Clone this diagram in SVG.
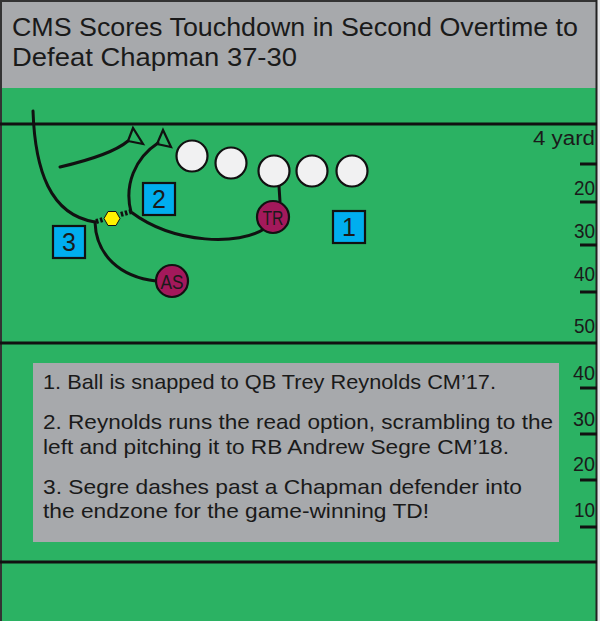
<svg xmlns="http://www.w3.org/2000/svg" width="600" height="621" viewBox="0 0 600 621">
<style>
.t{font-family:"Liberation Sans",Arial,sans-serif;fill:#1a1a1a}
.ln{stroke:#111;stroke-width:3;fill:none}
.rt{stroke:#111;stroke-width:3;fill:none;stroke-linecap:round}
.ah{stroke:#111;stroke-width:2.2;fill:none;stroke-linejoin:miter}
.ol{fill:#f1f1f2;stroke:#111;stroke-width:2.2}
.pl{fill:#a3195b;stroke:#111;stroke-width:2.2}
.bx{fill:#00aeef;stroke:#111;stroke-width:2.2}
.tk{stroke:#111;stroke-width:3}
</style>
<rect x="0" y="0" width="600" height="621" fill="#e6e7e8"/>
<rect x="0" y="0" width="597" height="88" fill="#a7a9ac"/>
<rect x="0" y="88" width="597" height="533" fill="#2bb263"/>
<g id="frame">
<line x1="0" y1="1" x2="597" y2="1" stroke="#333" stroke-width="2"/>
<line x1="1" y1="0" x2="1" y2="621" stroke="#333" stroke-width="2"/>
<line x1="596.5" y1="0" x2="596.5" y2="621" stroke="#222" stroke-width="2"/>
<line class="ln" x1="0" y1="124" x2="597" y2="124"/>
<line class="ln" x1="0" y1="343" x2="597" y2="343"/>
<line class="ln" x1="0" y1="562" x2="597" y2="562"/>
</g>
<g id="title">
<text class="t" x="12" y="36" font-size="25" textLength="566" lengthAdjust="spacingAndGlyphs">CMS Scores Touchdown in Second Overtime to</text>
<text class="t" x="12" y="66" font-size="25" textLength="285" lengthAdjust="spacingAndGlyphs">Defeat Chapman 37-30</text>
</g>
<g id="yard-markers">
<text class="t" x="533" y="145" font-size="20" textLength="62" lengthAdjust="spacingAndGlyphs">4 yard</text>
<line class="tk" x1="580" y1="164" x2="597" y2="164"/>
<text class="t" x="574" y="195" font-size="21" textLength="21" lengthAdjust="spacingAndGlyphs">20</text>
<line class="tk" x1="580" y1="202" x2="597" y2="202"/>
<text class="t" x="574" y="238" font-size="21" textLength="21" lengthAdjust="spacingAndGlyphs">30</text>
<line class="tk" x1="580" y1="245" x2="597" y2="245"/>
<text class="t" x="574" y="281" font-size="21" textLength="21" lengthAdjust="spacingAndGlyphs">40</text>
<line class="tk" x1="580" y1="292" x2="597" y2="292"/>
<text class="t" x="574" y="333" font-size="21" textLength="21" lengthAdjust="spacingAndGlyphs">50</text>
<text class="t" x="573" y="380" font-size="21" textLength="22" lengthAdjust="spacingAndGlyphs">40</text>
<line class="tk" x1="580" y1="388" x2="597" y2="388"/>
<text class="t" x="573" y="426" font-size="21" textLength="22" lengthAdjust="spacingAndGlyphs">30</text>
<line class="tk" x1="580" y1="434" x2="597" y2="434"/>
<text class="t" x="573" y="471" font-size="21" textLength="22" lengthAdjust="spacingAndGlyphs">20</text>
<line class="tk" x1="580" y1="480" x2="597" y2="480"/>
<text class="t" x="574" y="517" font-size="21" textLength="21" lengthAdjust="spacingAndGlyphs">10</text>
<line class="tk" x1="580" y1="527" x2="597" y2="527"/>
</g>
<g id="connectors">
<path class="rt" d="M33,111 C35,170 50,215 95,222"/>
<path class="rt" d="M95,222 C96,255 120,277 156,281"/>
<path class="rt" d="M264,229 C240,245 175,245 131,212 C124,185 135,158 158,143"/>
<path class="rt" d="M60,167 C90,160 115,152 128,141"/>
<polygon class="ah" points="163,130 157,144 171,147"/>
<polygon class="ah" points="133,128 128,141 143,144"/>
<line x1="279" y1="186" x2="280" y2="202" stroke="#111" stroke-width="3"/>
<path d="M96,221.5 L131,211.5" stroke="#111" stroke-width="5" stroke-dasharray="2.5 1.8" fill="none"/>
</g>
<g id="ball">
<polygon points="104,218.5 108,211.5 116,211.5 120,218.5 116,225.5 108,225.5" fill="#fff200" stroke="#2bb263" stroke-width="3"/>
<polygon points="104,218.5 108,211.5 116,211.5 120,218.5 116,225.5 108,225.5" fill="#fff200" stroke="#111" stroke-width="1"/>
</g>
<g id="linemen">
<circle class="ol" cx="192" cy="156" r="15.5"/>
<circle class="ol" cx="231" cy="163" r="15.5"/>
<circle class="ol" cx="274" cy="171" r="15.5"/>
<circle class="ol" cx="312" cy="171" r="15.5"/>
<circle class="ol" cx="352" cy="171" r="15.5"/>
</g>
<g id="node-TR">
<circle class="pl" cx="273" cy="217" r="16"/>
<text class="t" x="273" y="225" font-size="21" text-anchor="middle" textLength="21" lengthAdjust="spacingAndGlyphs">TR</text>
</g>
<g id="node-AS">
<circle class="pl" cx="172" cy="281" r="16"/>
<text class="t" x="172" y="288.5" font-size="20" text-anchor="middle" textLength="23" lengthAdjust="spacingAndGlyphs">AS</text>
</g>
<g id="step-1">
<rect class="bx" x="333" y="211" width="32" height="32"/>
<text class="t" x="349" y="236" font-size="25" text-anchor="middle">1</text>
</g>
<g id="step-2">
<rect class="bx" x="143" y="183" width="32" height="32"/>
<text class="t" x="159" y="208" font-size="25" text-anchor="middle">2</text>
</g>
<g id="step-3">
<rect class="bx" x="53" y="226" width="32" height="32"/>
<text class="t" x="69" y="251" font-size="25" text-anchor="middle">3</text>
</g>
<g id="caption">
<rect x="33" y="363" width="526" height="179" fill="#a7a9ac"/>
<text class="t" x="43" y="389" font-size="21" textLength="453" lengthAdjust="spacingAndGlyphs">1. Ball is snapped to QB Trey Reynolds CM’17.</text>
<text class="t" x="43" y="429" font-size="21" textLength="510" lengthAdjust="spacingAndGlyphs">2. Reynolds runs the read option, scrambling to the</text>
<text class="t" x="43" y="454" font-size="21" textLength="466" lengthAdjust="spacingAndGlyphs">left and pitching it to RB Andrew Segre CM’18.</text>
<text class="t" x="43" y="494" font-size="21" textLength="479" lengthAdjust="spacingAndGlyphs">3. Segre dashes past a Chapman defender into</text>
<text class="t" x="43" y="518" font-size="21" textLength="386" lengthAdjust="spacingAndGlyphs">the endzone for the game-winning TD!</text>
</g>
</svg>
